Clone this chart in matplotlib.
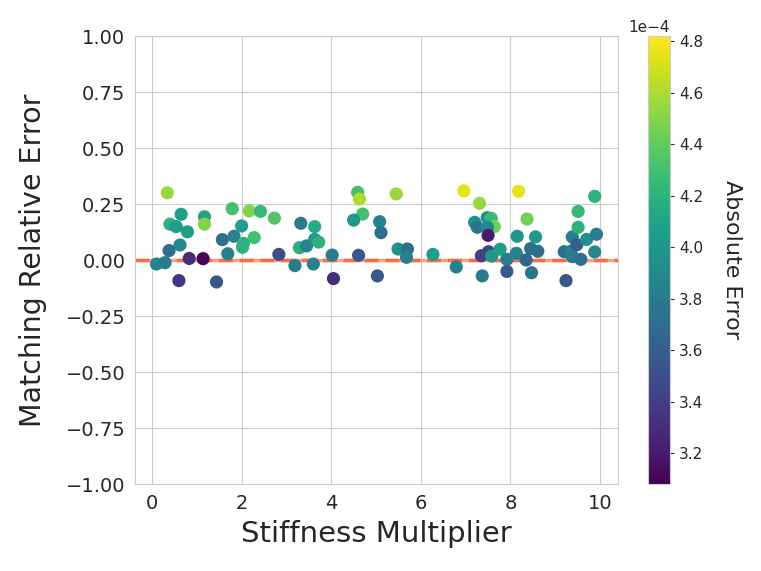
import numpy as np
import matplotlib
matplotlib.use("Agg")
import matplotlib.pyplot as plt
from matplotlib.ticker import ScalarFormatter
import seaborn as sns

# values
stiffness = [0.34, 0.65, 0.40, 0.54, 0.79, 1.17, 1.17, 0.625, 0.38, 0.10,
             0.29, 0.83, 1.14, 0.60, 1.44, 1.57, 1.69, 1.83, 1.79, 2.00,
             2.04, 2.02, 2.17, 2.42, 2.28, 2.73, 2.83, 3.19, 3.32, 3.63,
             3.29, 3.45, 3.63, 3.72, 3.60, 4.02, 4.05, 4.59, 4.63, 4.70,
             4.50, 4.61, 5.08, 5.11, 5.03, 5.45, 5.49, 5.70, 5.68, 6.27,
             6.79, 6.96, 7.31, 7.20, 7.26, 7.48, 7.57, 7.64, 7.49, 7.50,
             7.35, 7.51, 7.58, 7.37, 7.77, 7.92, 7.92, 8.13, 8.15, 8.18,
             8.35, 8.37, 8.45, 8.61, 8.56, 8.47, 9.24, 9.20, 9.35, 9.38,
             9.38, 9.48, 9.57, 9.51, 9.51, 9.70, 9.92, 9.88, 9.88]
rel_error = [0.300, 0.204, 0.160, 0.149, 0.126, 0.193, 0.160, 0.067, 0.042, -0.018,
             -0.012, 0.007, 0.006, -0.092, -0.098, 0.091, 0.028, 0.106, 0.229, 0.152,
             0.074, 0.057, 0.219, 0.217, 0.100, 0.187, 0.025, -0.025, 0.164, 0.149,
             0.055, 0.063, 0.092, 0.080, -0.018, 0.022, -0.083, 0.302, 0.272, 0.205,
             0.178, 0.021, 0.171, 0.122, -0.071, 0.295, 0.049, 0.049, 0.012, 0.025,
             -0.031, 0.309, 0.253, 0.168, 0.146, 0.189, 0.186, 0.149, 0.146, 0.110,
             0.019, 0.037, 0.018, -0.071, 0.048, 0.003, -0.051, 0.030, 0.106, 0.307,
             0.000, 0.183, 0.051, 0.039, 0.103, -0.057, -0.092, 0.037, 0.039, 0.015,
             0.103, 0.068, 0.003, 0.146, 0.217, 0.092, 0.115, 0.036, 0.284]
abs_error = [4.55, 4.05, 4.20, 4.05, 4.05, 4.10, 4.50, 3.90, 3.70, 3.85,
             3.80, 3.30, 3.10, 3.35, 3.55, 3.70, 3.85, 3.85, 4.30, 4.05,
             4.20, 4.20, 4.50, 4.25, 4.30, 4.35, 3.50, 3.80, 3.80, 4.15,
             4.20, 3.85, 4.00, 4.20, 3.85, 3.80, 3.30, 4.30, 4.60, 4.30,
             4.00, 3.55, 3.85, 3.70, 3.55, 4.55, 3.95, 3.70, 3.85, 4.05,
             3.85, 4.75, 4.55, 3.95, 3.75, 3.95, 4.25, 4.45, 3.90, 3.20,
             3.40, 3.45, 4.00, 3.80, 4.05, 3.80, 3.55, 3.85, 4.00, 4.75,
             3.65, 4.45, 3.70, 3.70, 4.00, 3.75, 3.55, 3.70, 3.85, 3.80,
             3.80, 3.60, 3.70, 4.20, 4.25, 3.95, 3.80, 3.90, 4.20]
abs_error = np.array(abs_error) * 1e-4

sns.set_style("whitegrid")
plt.rcParams['font.family'] = ['DejaVu Sans']

fig = plt.figure(figsize=(7.61, 5.71), dpi=100)
ax = fig.add_axes([135/761, 1 - 484/571, 483/761, 448/571])
cax = fig.add_axes([648/761, 1 - 484/571, 22/761, 448/571])

ax.axhline(0, color='#f4a582', lw=2.5, zorder=1)
ax.axhline(0, color='#f07048', lw=2.5, ls='--', dashes=(4, 2), zorder=1)
sc = ax.scatter(stiffness, rel_error, c=abs_error, cmap='viridis',
                vmin=3.08e-4, vmax=4.82e-4, s=90, zorder=3, linewidths=0)

ax.set_xlim(-0.38, 10.4)
ax.set_ylim(-1.0, 1.0)
ax.set_xticks([0, 2, 4, 6, 8, 10])
yt = np.arange(-1.0, 1.01, 0.25)
ax.set_yticks(yt)
ax.set_yticklabels([('%.2f' % v).replace('-', '\u2212') for v in yt])
ax.tick_params(labelsize=14, colors='.15')
ax.set_xlabel('Stiffness Multiplier', fontsize=21, color='.15', labelpad=5)
ax.set_ylabel('Matching Relative Error', fontsize=20.5, color='.15', labelpad=13)

cb = fig.colorbar(sc, cax=cax)
cb.set_ticks(np.arange(3.2e-4, 4.81e-4, 0.2e-4))
fmt = ScalarFormatter(useMathText=False)
fmt.set_powerlimits((0, 0))
cb.formatter = fmt
cb.update_ticks()
cb.ax.tick_params(labelsize=11, colors='.15', length=3, width=0.8, direction='out')
cb.ax.yaxis.get_offset_text().set_fontsize(11)
cb.outline.set_edgecolor('.8')
cb.set_label('Absolute Error', fontsize=16, rotation=270, labelpad=28, color='.15')

fig.savefig('out.png', dpi=100)
